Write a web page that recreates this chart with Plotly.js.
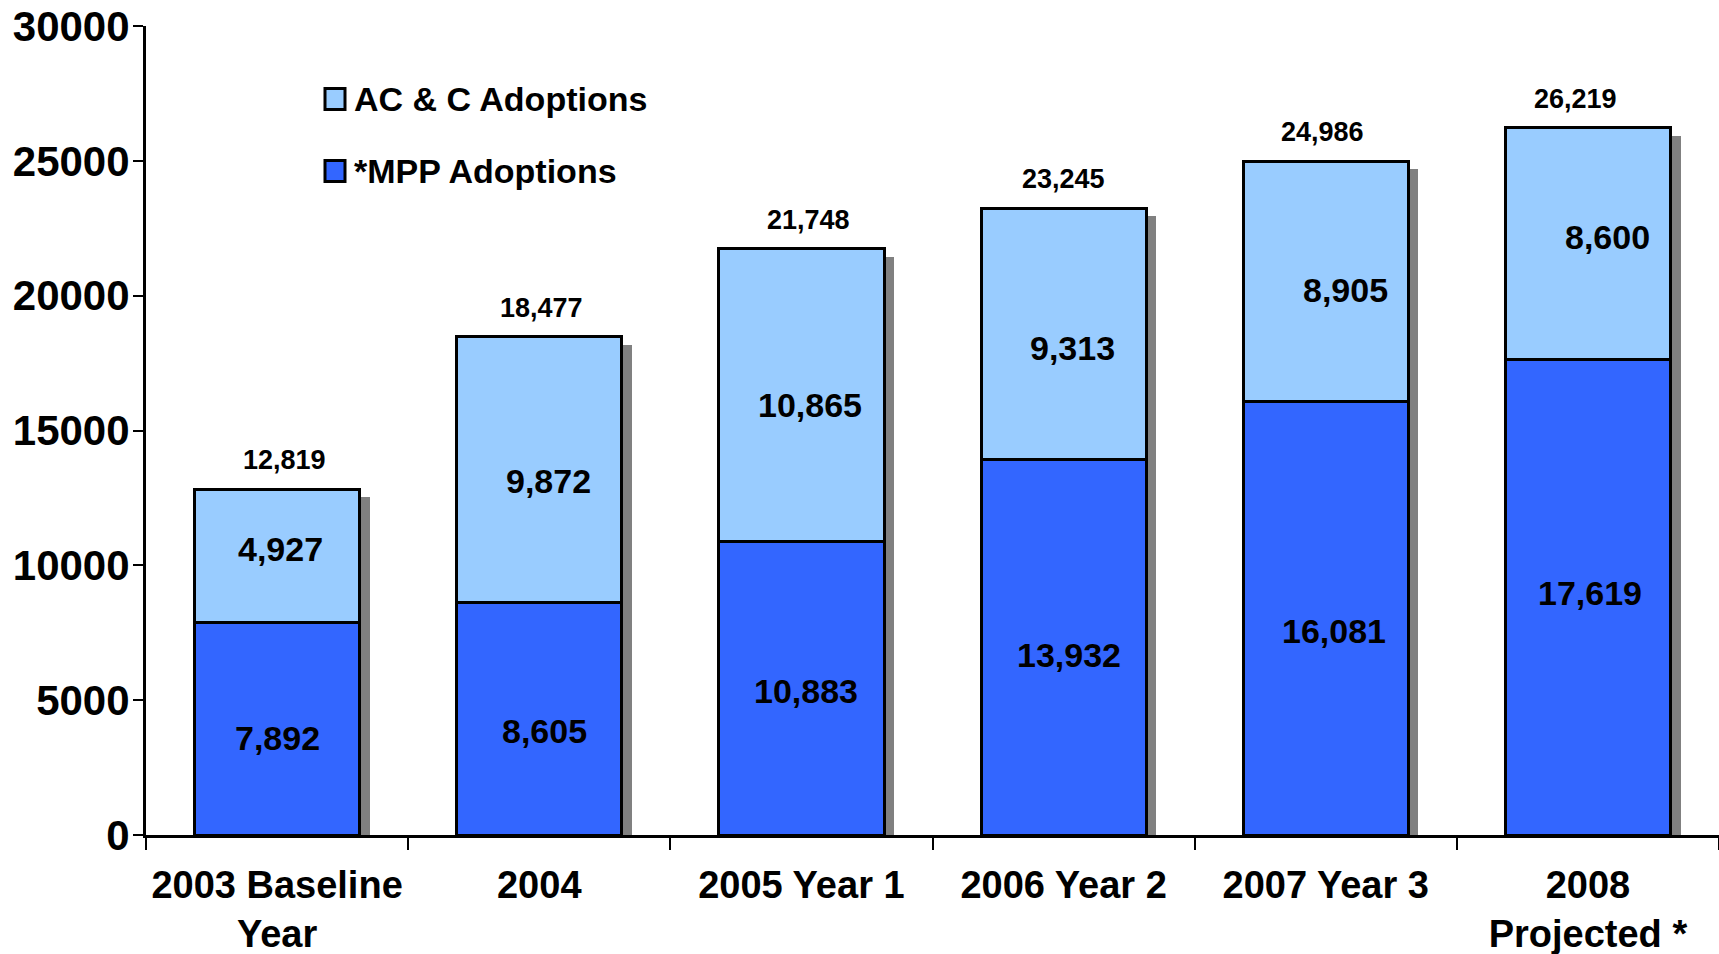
<!DOCTYPE html>
<html>
<head>
<meta charset="utf-8">
<script src="https://cdn.plot.ly/plotly-3.0.1.min.js"></script>
<style>html,body{margin:0;padding:0;background:#fff;}#chart{width:1719px;height:954px;}</style>
</head>
<body>
<div id="chart"></div>
<script>
// ---- data ----
const categories = ['2003 Baseline<br>Year', '2004', '2005 Year 1', '2006 Year 2', '2007 Year 3', '2008<br>Projected *'];
const mppAdoptions = [7892, 8605, 10883, 13932, 16081, 17619];
const accAdoptions = [4927, 9872, 10865, 9313, 8905, 8600];
const totals = [12819, 18477, 21748, 23245, 24986, 26219];
const seriesNames = ['*MPP Adoptions', 'AC & C Adoptions'];
const seriesColors = ['#3366FF', '#99CCFF'];
const yTicks = [0, 5000, 10000, 15000, 20000, 25000, 30000];

// ---- label placement tweaks (pixels, style only) ----
const mppLabelShift = {dx: [0, 5, 5, 5, 8, 2], dy: [9, 12, 3, 8, 13, -4]};
const accLabelShift = {dx: [3, 9, 9, 9, 20, 20], dy: [-7, 11, 10, 14, 9, -7]};
const totalLabelShift = {dx: [7, 2, 7, 0, -3, -12]};

// ---- layout geometry ----
const W = 1719, H = 954;
const M = {l: 146, r: 0, t: 26, b: 119};
const plotW = W - M.l - M.r, plotH = H - M.t - M.b;
const yMax = 30000;
const nCat = categories.length;
const shadowDxPx = 10, shadowDyPx = 8;
const dxUnits = shadowDxPx / (plotW / nCat);
const dyUnits = shadowDyPx * yMax / plotH;
const FONT = 'Liberation Sans, Arial, Helvetica, sans-serif';
const barWidth = 0.63;

const traces = [
  { // drop shadow (drawn on the hidden, shifted base axes)
    type: 'bar', x: categories, y: totals, xaxis: 'x', yaxis: 'y',
    width: barWidth, marker: {color: '#808080', line: {width: 0}},
    showlegend: false, hoverinfo: 'skip'
  },
  {
    type: 'bar', name: seriesNames[0], x: categories, y: mppAdoptions, xaxis: 'x2', yaxis: 'y2',
    width: barWidth, marker: {color: seriesColors[0], line: {color: '#000', width: 3}},
    textposition: 'none', showlegend: false
  },
  {
    type: 'bar', name: seriesNames[1], x: categories, y: accAdoptions, xaxis: 'x2', yaxis: 'y2',
    width: barWidth, marker: {color: seriesColors[1], line: {color: '#000', width: 3}},
    textposition: 'none', showlegend: false
  }
];

const fmt = v => v.toLocaleString('en-US');
const segFont = {family: FONT, size: 34, color: '#000', weight: 'bold'};
const annotations = [];
categories.forEach((c, i) => {
  // x given as the category index so numeric-looking names ("2004") resolve correctly
  annotations.push({x: i, y: mppAdoptions[i] / 2, xref: 'x2', yref: 'y2',
    xshift: mppLabelShift.dx[i], yshift: -mppLabelShift.dy[i],
    text: fmt(mppAdoptions[i]), showarrow: false, font: segFont});
  annotations.push({x: i, y: mppAdoptions[i] + accAdoptions[i] / 2, xref: 'x2', yref: 'y2',
    xshift: accLabelShift.dx[i], yshift: -accLabelShift.dy[i],
    text: fmt(accAdoptions[i]), showarrow: false, font: segFont});
  annotations.push({x: i, y: totals[i], xref: 'x2', yref: 'y2', yanchor: 'bottom',
    xshift: totalLabelShift.dx[i], yshift: 12,
    text: fmt(totals[i]), showarrow: false,
    font: {family: FONT, size: 27, color: '#000', weight: 'bold'}});
});

// custom legend (top entry = AC & C)
const px2x = px => (px - M.l) / plotW;
const px2y = py => 1 - (py - M.t) / plotH;
const legendRows = [{idx: 1, cy: 99}, {idx: 0, cy: 171}];
const shapes = [];
legendRows.forEach(r => {
  shapes.push({type: 'rect', xref: 'paper', yref: 'paper',
    x0: px2x(325), x1: px2x(345), y0: px2y(r.cy - 10.5), y1: px2y(r.cy + 10.5),
    fillcolor: seriesColors[r.idx], line: {color: '#000', width: 3}});
  annotations.push({xref: 'paper', yref: 'paper', x: px2x(352), y: px2y(r.cy),
    xanchor: 'left', yanchor: 'middle', showarrow: false, text: seriesNames[r.idx],
    font: {family: FONT, size: 34, color: '#000', weight: 'bold'}});
});

const layout = {
  width: W, height: H, margin: M, showlegend: false,
  paper_bgcolor: '#fff', plot_bgcolor: '#fff', barmode: 'stack',
  font: {family: FONT, color: '#000'},
  xaxis: {type: 'category', visible: false, range: [-0.5 - dxUnits, nCat - 0.5 - dxUnits], fixedrange: true},
  yaxis: {visible: false, range: [dyUnits, yMax + dyUnits], fixedrange: true},
  xaxis2: {type: 'category', overlaying: 'x', range: [-0.5, nCat - 0.5],
    showline: true, linecolor: '#000', linewidth: 3, showgrid: false, zeroline: false,
    ticks: 'outside', tickson: 'boundaries', ticklen: 12, tickwidth: 2, tickcolor: '#000',
    ticklabelstandoff: 14,
    tickfont: {family: FONT, size: 38, color: '#000', weight: 'bold'}},
  yaxis2: {overlaying: 'y', range: [0, yMax], tickvals: yTicks, ticktext: yTicks.map(String),
    showline: true, linecolor: '#000', linewidth: 3, showgrid: false, zeroline: false,
    ticks: 'outside', ticklen: 10, tickwidth: 2, tickcolor: '#000', ticklabelstandoff: -5,
    tickfont: {family: FONT, size: 42, color: '#000', weight: 'bold'}},
  annotations: annotations, shapes: shapes
};

Plotly.newPlot('chart', traces, layout, {displayModeBar: false, staticPlot: true});
</script>
</body>
</html>
